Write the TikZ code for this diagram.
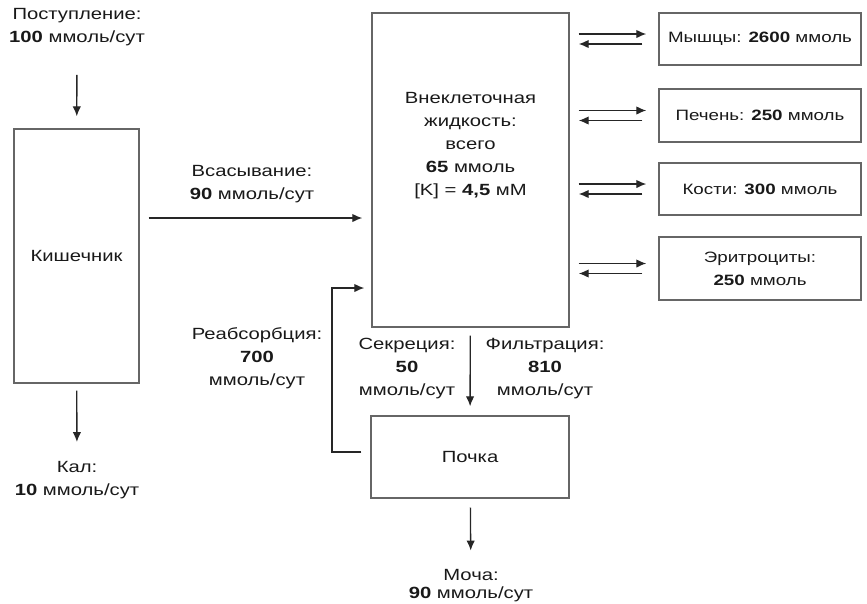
\documentclass[tikz,border=0pt]{standalone}
\usepackage{fontspec}
\setmainfont{Liberation Sans}[FakeStretch=1.25]
\usetikzlibrary{arrows.meta}

\begin{document}
\begin{tikzpicture}[x=1pt, y=-1pt, >={Latex[length=10pt,width=8.5pt]}]

% --- Styles ---
\tikzset{
    box/.style={draw=black!60, line width=1.4pt, inner sep=0pt, align=center,
        font=\fontsize{16.2}{23}\selectfont, text=black!90},
    organbox/.style={box, font=\fontsize{15}{23}\selectfont},
    txt/.style={align=center, inner sep=0pt, font=\fontsize{16.2}{23}\selectfont, text=black!90},
    arrow/.style={->, line width=1.3pt, draw=black!85}
}

\useasboundingbox (0,0) rectangle (867,603);

% --- Kishechnik (links) ---
\node[box, minimum width=125, minimum height=254] (gut) at (76.5,256) {Кишечник};
\node[txt] (intake) at (77,27) {Поступление:\\\textbf{100} ммоль/сут};
\node[txt] (feces) at (77,480) {Кал:\\\textbf{10} ммоль/сут};

\draw[arrow, shorten <=29pt, shorten >=12pt] (intake) -- (gut);
\draw[arrow, shorten <=7pt, shorten >=19pt] (gut) -- (feces);

% --- Vnekletochnaya zhidkost (midden) ---
\node[box, minimum width=197, minimum height=314] (ecf) at (470.5,170) {};
\node[txt] (ecftext) at (470.5,146) {Внеклеточная\\жидкость:\\всего\\\textbf{65} ммоль\\{[K]} = \textbf{4,5} мМ};

% Vsasyvanie
\node[txt] (absorb) at (252,184) {Всасывание:\\\textbf{90} ммоль/сут};
\coordinate (absorbstart) at ([yshift=38pt]gut.east);
\draw[arrow, shorten <=9pt, shorten >=9pt] (absorbstart) -- (absorbstart -| ecf.west);

% --- Depots (rechts) ---
\node[organbox, minimum width=202, minimum height=52] (muscle) at (760,39) {Мышцы: \textbf{2600} ммоль};
\node[organbox, minimum width=202, minimum height=53] (liver) at (760,115.5) {Печень: \textbf{250} ммоль};
\node[organbox, minimum width=202, minimum height=52] (bone) at (760,189) {Кости: \textbf{300} ммоль};
\node[organbox, minimum width=202, minimum height=63] (rbc) at (760,268.5) {Эритроциты:\\\textbf{250} ммоль};

% obmen v obe storony
\foreach \organ in {muscle,liver,bone,rbc} {
    \draw[arrow, shorten <=9pt, shorten >=12pt] ([yshift=5pt]ecf.east |- \organ.west) -- ([yshift=5pt]\organ.west);
    \draw[arrow, shorten <=16pt, shorten >=9pt] ([yshift=-5pt]\organ.west) -- ([yshift=-5pt]ecf.east |- \organ.west);
}

% --- Pochka (onder) ---
\node[box, minimum width=198, minimum height=82] (kidney) at (470,457) {Почка};
\node[txt] (secr) at (407,369) {Секреция:\\\textbf{50}\\ммоль/сут};
\node[txt] (filtr) at (545,369) {Фильтрация:\\\textbf{810}\\ммоль/сут};
\node[txt] (reabs) at (257,358) {Реабсорбция:\\\textbf{700}\\ммоль/сут};
\node[txt, font=\fontsize{16.2}{18}\selectfont] (urine) at (471,586) {Моча:\\\textbf{90} ммоль/сут};

\draw[arrow, shorten <=8pt, shorten >=9pt] (ecf) -- (kidney);

% Reabsorbtsiya: petlya nazad
\coordinate (loopcorner) at (332,288);
\draw[arrow, shorten <=9pt, shorten >=7pt] ([yshift=5pt]kidney.west) -| (loopcorner) -- (loopcorner -| ecf.west);

\draw[arrow, shorten <=9pt, shorten >=19pt] (kidney) -- (urine);

\end{tikzpicture}
\end{document}
